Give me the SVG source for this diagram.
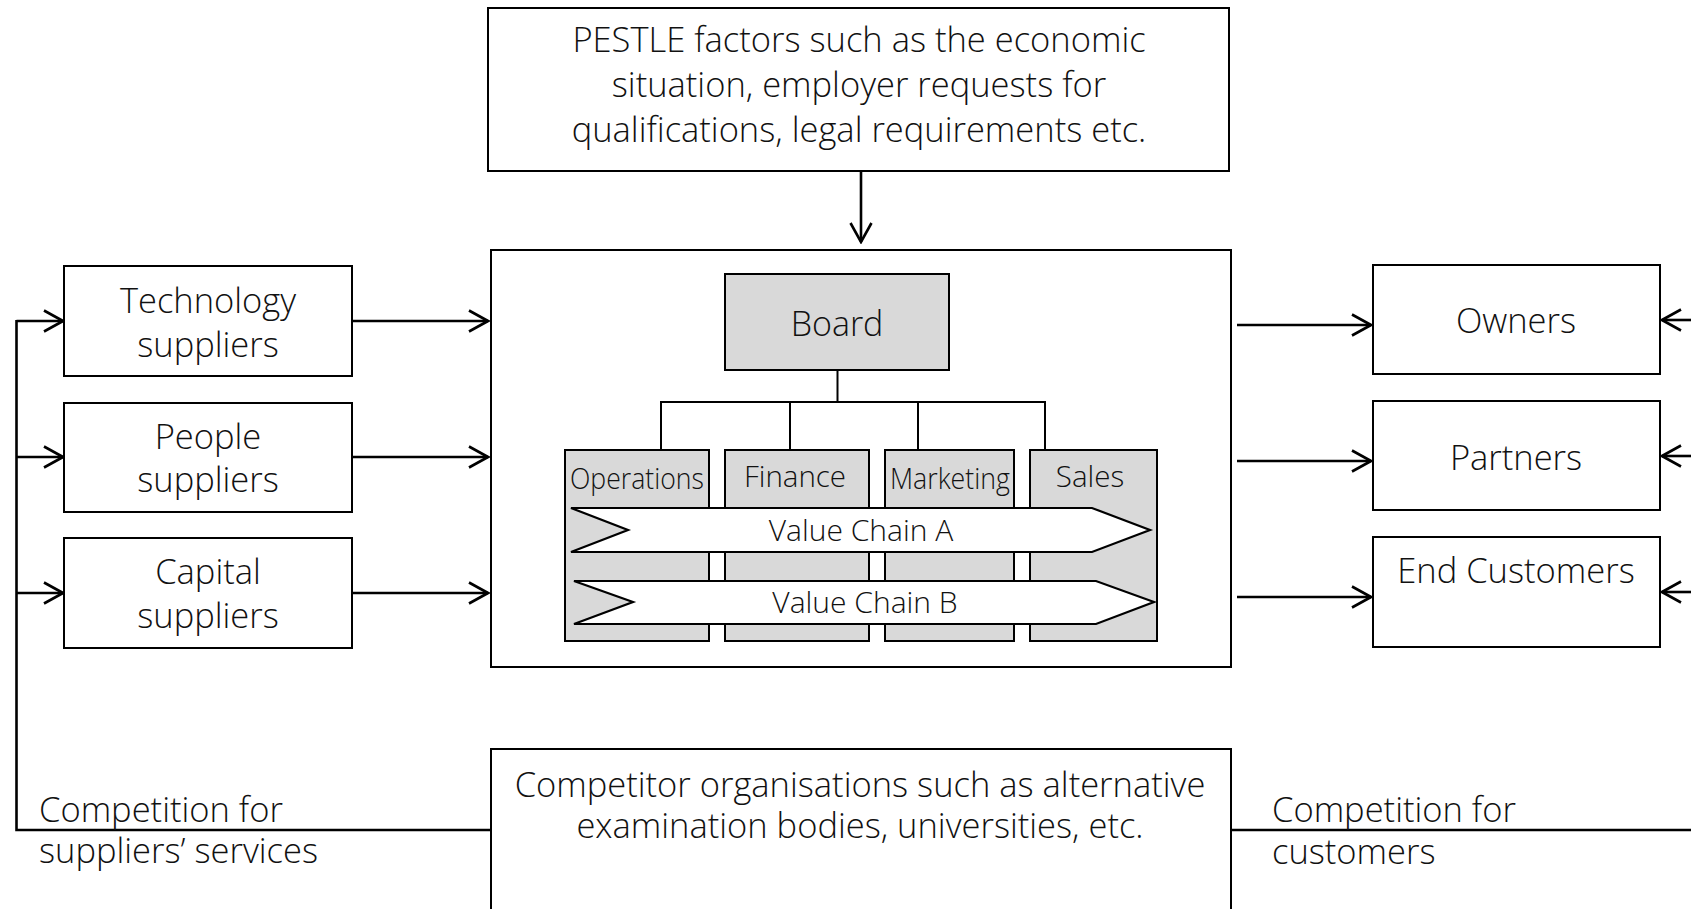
<svg xmlns="http://www.w3.org/2000/svg" width="1691" height="909" viewBox="0 0 1691 909">
  <style>
    text { font-family: "Open Sans", "Noto Sans", "Liberation Sans", sans-serif; font-weight: 300; fill: #111; }
    .box { fill: #fff; stroke: #000; stroke-width: 2; }
    .grey { fill: #d9d9d9; stroke: #000; stroke-width: 2; }
    .chain { fill: #fff; stroke: #000; stroke-width: 2.2; }
    .link { fill: none; stroke: #000; stroke-width: 2.6; }
    .org { fill: none; stroke: #000; stroke-width: 2; }
    .big { font-size: 34.5px; }
    .mid { font-size: 30px; }
    .dept { font-size: 29.5px; }
  </style>
  <defs>
    <marker id="arrow" viewBox="0 0 22 24" refX="20" refY="12" markerWidth="22" markerHeight="24" orient="auto" markerUnits="userSpaceOnUse">
      <path d="M1,1.5 L20,12 L1,22.5" fill="none" stroke="#000" stroke-width="2.6"/>
    </marker>
  </defs>

  <rect width="1691" height="909" fill="#fff"/>

  <!-- connectors -->
  <g id="connectors">
    <!-- PESTLE into organisation -->
    <line class="link" x1="861" y1="172" x2="861" y2="242" marker-end="url(#arrow)"/>
    <!-- suppliers into organisation -->
    <line class="link" x1="352" y1="321" x2="488" y2="321" marker-end="url(#arrow)"/>
    <line class="link" x1="352" y1="457" x2="488" y2="457" marker-end="url(#arrow)"/>
    <line class="link" x1="352" y1="593" x2="488" y2="593" marker-end="url(#arrow)"/>
    <!-- organisation out to stakeholders -->
    <line class="link" x1="1237" y1="325" x2="1371" y2="325" marker-end="url(#arrow)"/>
    <line class="link" x1="1237" y1="461" x2="1371" y2="461" marker-end="url(#arrow)"/>
    <line class="link" x1="1237" y1="597" x2="1371" y2="597" marker-end="url(#arrow)"/>
    <!-- competition for suppliers -->
    <polyline class="link" points="491,830 16.5,830 16.5,320"/>
    <line class="link" x1="16.5" y1="321" x2="63" y2="321" marker-end="url(#arrow)"/>
    <line class="link" x1="16.5" y1="457" x2="63" y2="457" marker-end="url(#arrow)"/>
    <line class="link" x1="16.5" y1="593" x2="63" y2="593" marker-end="url(#arrow)"/>
    <!-- competition for customers -->
    <line class="link" x1="1231" y1="830" x2="1691" y2="830"/>
    <line class="link" x1="1691" y1="320" x2="1662" y2="320" marker-end="url(#arrow)"/>
    <line class="link" x1="1691" y1="456" x2="1662" y2="456" marker-end="url(#arrow)"/>
    <line class="link" x1="1691" y1="592" x2="1662" y2="592" marker-end="url(#arrow)"/>
  </g>

  <g id="pestle">
    <rect class="box" x="488" y="8" width="741" height="163"/>
    <text class="big" x="859" y="52" text-anchor="middle">PESTLE factors such as the economic</text>
    <text class="big" x="859" y="97" text-anchor="middle">situation, employer requests for</text>
    <text class="big" x="859" y="142" text-anchor="middle">qualifications, legal requirements etc.</text>
  </g>

  <g id="technology-suppliers">
    <rect class="box" x="64" y="266" width="288" height="110"/>
    <text class="big" x="208" y="313" text-anchor="middle">Technology</text>
    <text class="big" x="208" y="357" text-anchor="middle">suppliers</text>
  </g>
  <g id="people-suppliers">
    <rect class="box" x="64" y="403" width="288" height="109"/>
    <text class="big" x="208" y="449" text-anchor="middle">People</text>
    <text class="big" x="208" y="492" text-anchor="middle">suppliers</text>
  </g>
  <g id="capital-suppliers">
    <rect class="box" x="64" y="538" width="288" height="110"/>
    <text class="big" x="208" y="584" text-anchor="middle">Capital</text>
    <text class="big" x="208" y="628" text-anchor="middle">suppliers</text>
  </g>

  <g id="organisation">
    <rect class="box" x="491" y="250" width="740" height="417"/>
    <g id="board">
      <rect class="grey" x="725" y="274" width="224" height="96"/>
      <text class="big" x="837" y="336" text-anchor="middle" style="font-size:34px">Board</text>
    </g>
    <g id="org-lines">
      <line class="org" x1="837.5" y1="370" x2="837.5" y2="402"/>
      <polyline class="org" points="661,450 661,402 1045,402 1045,450"/>
      <line class="org" x1="790" y1="402" x2="790" y2="450"/>
      <line class="org" x1="918" y1="402" x2="918" y2="450"/>
    </g>
    <g id="operations">
      <rect class="grey" x="565" y="450" width="144" height="191"/>
      <text class="dept" x="637" y="489" text-anchor="middle" textLength="134" lengthAdjust="spacingAndGlyphs">Operations</text>
    </g>
    <g id="finance">
      <rect class="grey" x="725" y="450" width="144" height="191"/>
      <text class="dept" x="795" y="487" text-anchor="middle">Finance</text>
    </g>
    <g id="marketing">
      <rect class="grey" x="885" y="450" width="129" height="191"/>
      <text class="dept" x="950" y="489" text-anchor="middle" textLength="120" lengthAdjust="spacingAndGlyphs">Marketing</text>
    </g>
    <g id="sales">
      <rect class="grey" x="1030" y="450" width="127" height="191"/>
      <text class="dept" x="1090" y="487" text-anchor="middle">Sales</text>
    </g>
    <g id="value-chain-a">
      <polygon class="chain" points="571,508 1092,508 1150,530 1092,552 571,552 628,530"/>
      <text class="mid" x="861" y="541" text-anchor="middle">Value Chain A</text>
    </g>
    <g id="value-chain-b">
      <polygon class="chain" points="574,581 1096,581 1154,602 1096,624 574,624 633,602"/>
      <text class="mid" x="865" y="613" text-anchor="middle">Value Chain B</text>
    </g>
  </g>

  <g id="owners">
    <rect class="box" x="1373" y="265" width="287" height="109"/>
    <text class="big" x="1516" y="333" text-anchor="middle">Owners</text>
  </g>
  <g id="partners">
    <rect class="box" x="1373" y="401" width="287" height="109"/>
    <text class="big" x="1516" y="470" text-anchor="middle">Partners</text>
  </g>
  <g id="end-customers">
    <rect class="box" x="1373" y="537" width="287" height="110"/>
    <text class="big" x="1516" y="583" text-anchor="middle">End Customers</text>
  </g>

  <g id="competitors">
    <rect class="box" x="491" y="749" width="740" height="175"/>
    <text class="big" x="860" y="797" text-anchor="middle">Competitor organisations such as alternative</text>
    <text class="big" x="860" y="838" text-anchor="middle">examination bodies, universities, etc.</text>
  </g>

  <g id="connector-labels">
    <text class="big" x="39" y="822">Competition for</text>
    <text class="big" x="39" y="863">suppliers’ services</text>
    <text class="big" x="1272" y="822">Competition for</text>
    <text class="big" x="1272" y="864">customers</text>
  </g>
</svg>
